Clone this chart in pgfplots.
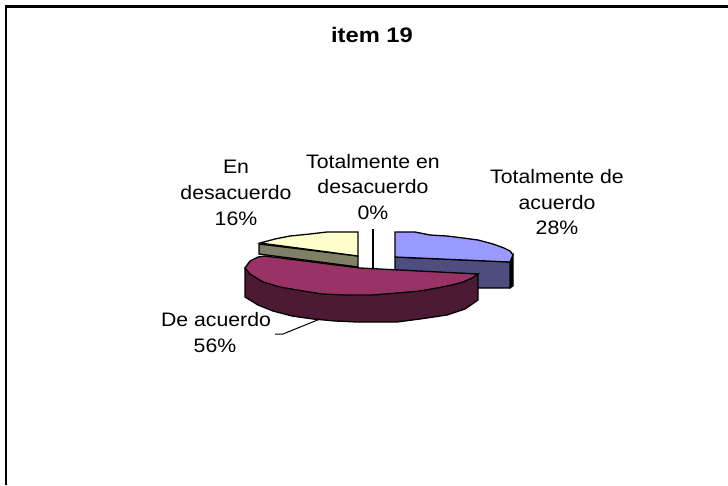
\documentclass[border=0pt]{standalone}
\usepackage{pgfplots}
\pgfplotsset{compat=1.18}
\usepackage{fontspec}
\setmainfont{Liberation Sans}
\definecolor{bt}{HTML}{9999FF}\definecolor{bs}{HTML}{4D4D80}
\definecolor{mt}{HTML}{993366}\definecolor{ms}{HTML}{4D1A33}
\definecolor{yt}{HTML}{FFFFCC}\definecolor{ys}{HTML}{808066}
\newcommand{\lab}[1]{\fontsize{19.5}{19.5}\selectfont\scalebox{1.09}[1]{#1}}
\begin{document}
\begin{tikzpicture}
\useasboundingbox (0,0) rectangle (728pt,485pt);
\begin{axis}[at={(0,0)},anchor=south west,scale only axis,width=728pt,height=485pt,
  xmin=0,xmax=728,ymin=0,ymax=485,y dir=reverse,axis lines=none,clip=false]
% frame
\addplot[black,line width=2.7pt,forget plot] coordinates {(6,485) (6,6.3) (728,6.3)};
% blue sides
\addplot[fill=black,draw=black,line width=1pt] coordinates {(510,262) (513,255) (513,286) (510,288)} --cycle;
\addplot[fill=bs,draw=black,line width=1.2pt] coordinates {(395,257) (510,262) (510,288) (470,288) (395,280)} --cycle;
% blue top
\addplot[fill=bt,draw=black,line width=1.3pt] coordinates {(395,232) (415,232) (430,235) (447,236) (463,238) (478,240) (493,244) (504,248) (510,251) (513,255) (510,262) (395,257)} --cycle;
% yellow
\addplot[fill=ys,draw=black,line width=1.3pt] coordinates {(259,244) (358,256) (358,267) (259,254)} --cycle;
\addplot[fill=yt,draw=black,line width=1.3pt] coordinates {(358,232) (327,232) (310,234) (290,236) (275,239) (260,243) (358,256)} --cycle;
% magenta side
\addplot[fill=ms,draw=black,line width=1.3pt] coordinates {(245,268) (245,297) (258,305) (273,311) (292,316) (313,319) (335,321) (357,322) (378,322) (397,322) (420,319) (447,315) (465,309) (478,300) (478,274)} --cycle;
% magenta top
\addplot[fill=mt,draw=black,line width=1.3pt] coordinates {(478,274) (360,268) (265,256) (258,257) (250,261) (245,268) (250,274) (263,282) (280,287) (297,290) (322,294) (347,295) (372,295) (397,293) (420,291) (437,288) (452,285) (463,282) (472,278)} --cycle;
% 0% leader
\addplot[black,line width=1.2pt] coordinates {(373,229) (373,268)};
% 56% leader
\addplot[black,line width=1pt] coordinates {(320,319) (283,334) (275,334)};
\node[anchor=base] at (axis cs:372,42) {\fontsize{21}{21}\selectfont\bfseries\scalebox{1.13}[1]{item 19}};
\node[anchor=base] at (axis cs:557,183) {\lab{Totalmente de}};
\node[anchor=base] at (axis cs:557,209) {\lab{acuerdo}};
\node[anchor=base] at (axis cs:557,234) {\lab{28\%}};
\node[anchor=base] at (axis cs:373,168) {\lab{Totalmente en}};
\node[anchor=base] at (axis cs:373,193) {\lab{desacuerdo}};
\node[anchor=base] at (axis cs:373,219) {\lab{0\%}};
\node[anchor=base] at (axis cs:236,173) {\lab{En}};
\node[anchor=base] at (axis cs:236,199) {\lab{desacuerdo}};
\node[anchor=base] at (axis cs:236,225) {\lab{16\%}};
\node[anchor=base] at (axis cs:216,326) {\lab{De acuerdo}};
\node[anchor=base] at (axis cs:215,352) {\lab{56\%}};
\end{axis}
\end{tikzpicture}
\end{document}
